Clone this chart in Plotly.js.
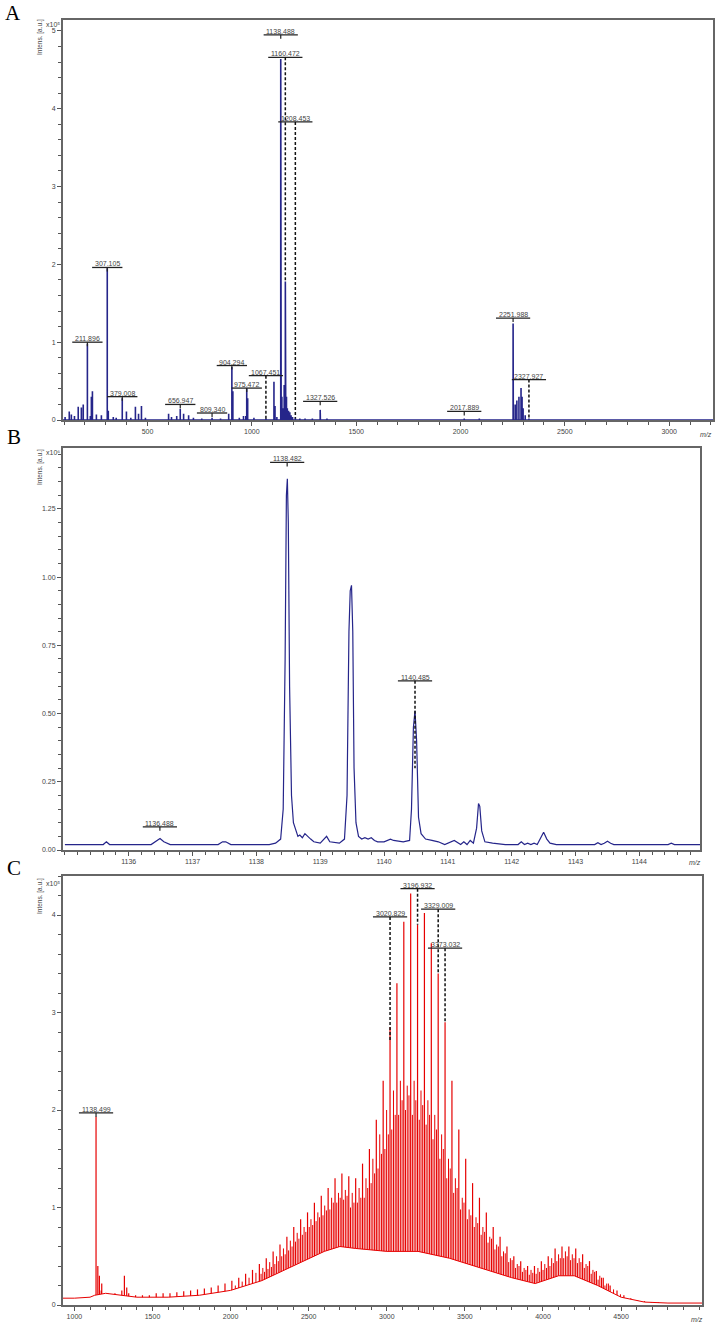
<!DOCTYPE html>
<html><head><meta charset="utf-8">
<script src="https://cdn.plot.ly/plotly-3.0.1.min.js"></script>
<style>html,body{margin:0;padding:0;background:#fff}#chart{width:717px;height:1325px}</style>
</head><body><div id="chart"></div>
<script>
// ---------------- Panel A : stick spectrum (m/z, intensity x10^5) ----------------
const aMz = [105,125,135,150,168,183,192,211.9,226,231,
  236,255,279,307.1,312,336,350,379.0,399,420,
  442,457,471,490,601,615,640,656.9,673,697,
  720,760,809.3,850,889,904.3,909,940,960,971,
  975.5,980,1010,1067.5,1106,1111,1120,1138.5,1139.5,1140.5,
  1144,1150,1155,1160.5,1161.5,1162.5,1166,1170,1176,1182,
  1188,1195,1208.5,1230,1255,1290,1327.5,1328.5,1360,1850,
  2017.9,2090,2252.0,2253,2262,2270,2280,2290,2295,2300,
  2310,2327.9];
const aInt = [0.04,0.11,0.07,0.05,0.17,0.16,0.2,0.98,0.05,0.3,
  0.37,0.07,0.06,1.95,0.12,0.04,0.03,0.28,0.11,0.03,
  0.17,0.08,0.18,0.03,0.08,0.04,0.05,0.14,0.08,0.06,
  0.03,0.02,0.03,0.02,0.08,0.68,0.37,0.03,0.05,0.05,
  0.40,0.28,0.03,0.02,0.49,0.18,0.04,4.64,3.78,1.6,
  0.3,0.15,0.45,1.78,0.9,0.35,0.3,0.15,0.12,0.1,
  0.06,0.04,0.03,0.02,0.02,0.02,0.13,0.07,0.02,0.01,
  0.02,0.02,1.24,0.9,0.2,0.25,0.3,0.41,0.3,0.15,
  0.06,0.02];
const aLabText = ['211.896','307.105','379.008','656.947','809.340','904.294','975.472','1067.451','1138.488','1160.472','1208.453','1327.526','2017.889','2251.988','2327.927'];
const aXTicks = [500,1000,1500,2000,2500,3000];

// ---------------- Panel B : profile of the 1138 isotope cluster (x10^6) ----------------
const bMz = [1135.00,1135.60,1135.65,1135.70,1136.35,1136.45,1136.49,1136.55,1136.65,1137.40,
  1137.47,1137.52,1137.60,1138.20,1138.30,1138.38,1138.42,1138.45,1138.47,1138.485,
  1138.50,1138.52,1138.55,1138.58,1138.62,1138.65,1138.68,1138.72,1138.76,1138.80,
  1138.85,1138.90,1139.00,1139.10,1139.15,1139.30,1139.38,1139.42,1139.45,1139.47,
  1139.49,1139.51,1139.53,1139.56,1139.60,1139.65,1139.70,1139.75,1139.80,1139.85,
  1139.90,1140.00,1140.05,1140.10,1140.15,1140.30,1140.40,1140.43,1140.46,1140.485,
  1140.51,1140.54,1140.58,1140.65,1140.75,1140.85,1140.95,1141.05,1141.10,1141.20,
  1141.25,1141.30,1141.35,1141.40,1141.45,1141.48,1141.50,1141.53,1141.58,1141.70,
  1141.90,1142.10,1142.15,1142.20,1142.25,1142.30,1142.35,1142.40,1142.45,1142.50,
  1142.55,1142.60,1142.70,1143.30,1143.35,1143.40,1143.45,1143.50,1143.55,1143.60,
  1144.45,1144.50,1144.55,1144.95];
const bInt = [0.02,0.02,0.03,0.02,0.02,0.035,0.042,0.03,0.02,0.02,
  0.03,0.03,0.02,0.02,0.025,0.04,0.15,0.7,1.30,1.36,
  1.2,0.6,0.2,0.1,0.07,0.05,0.055,0.045,0.06,0.05,
  0.04,0.03,0.025,0.05,0.03,0.025,0.04,0.2,0.8,0.95,
  0.97,0.8,0.3,0.1,0.05,0.04,0.045,0.04,0.045,0.035,
  0.03,0.03,0.035,0.04,0.035,0.03,0.035,0.15,0.45,0.51,
  0.4,0.12,0.06,0.04,0.035,0.03,0.02,0.03,0.035,0.02,
  0.03,0.02,0.035,0.025,0.08,0.17,0.16,0.07,0.03,0.025,
  0.02,0.02,0.03,0.02,0.025,0.02,0.025,0.02,0.04,0.065,
  0.04,0.025,0.02,0.02,0.027,0.02,0.025,0.032,0.025,0.02,
  0.02,0.025,0.02,0.02];
const bLabText = ['1136.488','1138.482','1140.485'];
const bXTicks = [1136,1137,1138,1139,1140,1141,1142,1143,1144];

// ---------------- Panel C : polymer distribution (x10^5) ----------------
const cMz = [1171.6,1215.6,1259.6,1303.6,1347.7,1391.7,1435.7,1479.8,1523.8,1567.8,
  1611.9,1655.9,1699.9,1744.0,1788.0,1832.0,1876.0,1920.1,1964.1,2008.1,
  2052.2,2096.2,2140.2,2184.2,2228.3,2272.3,2316.3,2360.4,2404.4,2448.4,
  2492.5,2536.5,2580.5,2624.5,2668.6,2712.6,2756.6,2800.7,2844.7,2888.7,
  2932.8,2976.8,3020.8,3064.8,3108.9,3152.9,3196.9,3240.9,3285.0,3329.0,
  3373.0,3417.1,3461.1,3505.1,3549.2,3593.2,3637.2,3681.3,3725.3,3769.3,
  3813.3,3857.4,3901.4,3945.4,3989.5,4033.5,4077.5,4121.6,4165.6,4209.6,
  4253.7,4297.7,4341.7,4385.7,4429.8,4473.8,4517.8,4561.9,4605.9,4649.9,
  4694.0,4738.0];
const cTop = [0.15,0.12,0.12,0.15,0.12,0.1,0.1,0.1,0.12,0.12,
  0.12,0.13,0.14,0.15,0.16,0.17,0.18,0.2,0.22,0.25,
  0.28,0.32,0.36,0.42,0.48,0.55,0.62,0.7,0.8,0.88,
  0.95,1.05,1.12,1.2,1.3,1.35,1.32,1.3,1.45,1.6,
  1.9,2.3,2.85,3.3,3.93,4.22,3.9,4.02,3.71,3.4,
  2.9,2.3,1.8,1.5,1.25,1.1,0.95,0.8,0.7,0.6,
  0.5,0.45,0.4,0.4,0.45,0.5,0.58,0.6,0.6,0.58,
  0.52,0.45,0.35,0.28,0.2,0.15,0.1,0.07,0.05,0.04,
  0.03,0.03];
const cMz2 = [2030.2,2074.2,2118.2,2162.2,2206.3,2250.3,2294.3,2338.4,2382.4,2426.4,
  2470.5,2514.5,2558.5,2602.5,2646.6,2690.6,2734.6,2778.7,2822.7,2866.7,
  2910.8,2954.8,2998.8,3042.8,3086.9,3130.9,3174.9,3218.9,3263.0,3307.0,
  3351.0,3395.1,3439.1,3483.1,3527.2,3571.2,3615.2,3659.3,3703.3,3747.3,
  3791.3,3835.4,3879.4,3923.4,3967.5,4011.5,4055.5,4099.6,4143.6,4187.6,
  4231.7,4275.7,4319.7,4363.7,4407.8,4451.8,4495.8];
const cTop2 = [0.2,0.24,0.28,0.33,0.38,0.44,0.5,0.58,0.66,0.74,
  0.8,0.88,0.95,1.02,1.1,1.15,1.18,1.15,1.2,1.3,
  1.5,1.75,2.0,2.2,2.3,2.25,2.3,2.2,2.1,1.95,
  1.75,1.5,1.3,1.1,0.98,0.9,0.8,0.7,0.62,0.55,
  0.48,0.42,0.38,0.36,0.38,0.42,0.48,0.52,0.55,0.52,
  0.48,0.42,0.36,0.3,0.22,0.16,0.11];
const cMz3 = [2195.2,2239.3,2283.3,2327.3,2371.4,2415.4,2459.4,2503.5,2547.5,2591.5,
  2635.5,2679.6,2723.6,2767.6,2811.7,2855.7,2899.7,2943.8,2987.8,3031.8,
  3075.8,3119.9,3163.9,3207.9,3251.9,3296.0,3340.0,3384.0,3428.1,3472.1,
  3516.1,3560.2,3604.2,3648.2,3692.3,3736.3,3780.3,3824.3,3868.4,3912.4,
  3956.4,4000.5,4044.5,4088.5,4132.6,4176.6,4220.6,4264.7,4308.7,4352.7,4396.7];
const cTop3 = [0.32,0.37,0.42,0.5,0.56,0.65,0.72,0.8,0.86,0.92,
  0.98,1.05,1.08,1.0,1.05,1.1,1.25,1.4,1.6,1.8,
  1.95,2.0,1.95,1.9,1.85,1.7,1.5,1.3,1.15,0.98,
  0.88,0.8,0.72,0.64,0.57,0.5,0.44,0.38,0.34,0.31,
  0.32,0.36,0.4,0.45,0.48,0.46,0.43,0.38,0.32,0.26,0.2];
const cMz4 = [2217.3,2261.3,2305.3,2349.4,2393.4,2437.4,2481.5,2525.5,2569.5,2613.5,
  2657.6,2701.6,2745.6,2789.7,2833.7,2877.7,2921.8,2965.8,3009.8,3053.8,
  3097.9,3141.9,3185.9,3229.9,3274.0,3318.0,3362.0,3406.1,3450.1,3494.1,
  3538.2,3582.2,3626.2,3670.3,3714.3,3758.3,3802.3,3846.4,3890.4,3934.4,
  3978.5,4022.5,4066.5,4110.6,4154.6,4198.6,4242.7,4286.7,4330.7,4374.7,4418.8];
const cTop4 = [0.34,0.39,0.45,0.52,0.6,0.68,0.75,0.82,0.9,0.97,
  1.05,1.1,1.12,1.05,1.1,1.2,1.35,1.55,1.75,1.95,
  2.1,2.15,2.1,2.05,1.95,1.8,1.6,1.4,1.2,1.05,
  0.92,0.84,0.75,0.68,0.6,0.53,0.46,0.4,0.36,0.33,
  0.34,0.38,0.43,0.48,0.5,0.48,0.44,0.4,0.34,0.28,0.22];
const cExMz = [1138.5,1150,1160,1175,1320,1335];
const cExTop = [1.93,0.4,0.3,0.22,0.3,0.18];
const cFloorMz = [927,1000,1100,1130,1200,1300,1400,1600,1800,2000,2200,2400,2600,2700,2800,3000,3200,3400,3600,3800,3950,4100,4200,4350,4500,4650,4800,5018];
const cFloor = [0.07,0.07,0.08,0.1,0.12,0.1,0.08,0.08,0.1,0.15,0.25,0.4,0.55,0.6,0.58,0.55,0.55,0.48,0.38,0.28,0.22,0.3,0.3,0.2,0.08,0.03,0.02,0.02];
const cLabText = ['1138.499','3020.829','3196.932','3329.009','3373.032'];
const cXTicks = [1000,1500,2000,2500,3000,3500,4000,4500];

// ---------------- label placement (layout, not data) ----------------
const aLabLevel = [1.0,1.96,0.3,0.2,0.09,0.7,0.41,0.57,4.95,4.66,3.83,0.24,0.11,1.31,0.52];
const aLabDashTo = [null,null,null,null,null,null,null,0.0,null,1.78,0.02,null,null,null,0.02];
const bLabLevel = [0.085,1.42,0.62];
const bLabDashTo = [null,null,0.3];
const cLabLevel = [1.97,3.98,4.27,4.06,3.66];
const cLabDashTo = [null,2.7,3.9,3.4,2.9];

// ---------------- geometry ----------------
const W = 717, H = 1325;
const px = v => v / W, py = v => 1 - v / H;
const AXL = 63;

function sticksConnected(mz, h, x0, x1) {
  const x = [x0], y = [0];
  mz.forEach((m, i) => { x.push(m, m, m); y.push(0, h[i], 0); });
  x.push(x1); y.push(0);
  return {x, y};
}
function sticksSep(mz, h) {
  const x = [], y = [];
  mz.forEach((m, i) => { x.push(m, m, null); y.push(0, h[i], null); });
  return {x, y};
}

const aS = sticksConnected(aMz, aInt, 95, 3210);
const cS1 = sticksSep(cMz, cTop);
const cS2 = sticksSep(cMz2, cTop2);
const cS3 = sticksSep(cMz3, cTop3);
const cS4 = sticksSep(cMz4, cTop4);
const cS5 = sticksSep(cExMz, cExTop);

const BLUE = '#25258a', RED = '#e60000';
const traces = [
  {x: aS.x, y: aS.y, xaxis: 'x', yaxis: 'y', mode: 'lines', line: {color: BLUE, width: 1.6}, hoverinfo: 'skip'},
  {x: bMz, y: bInt, xaxis: 'x2', yaxis: 'y2', mode: 'lines', line: {color: BLUE, width: 1.2}, hoverinfo: 'skip'},
  {x: cS3.x, y: cS3.y, xaxis: 'x3', yaxis: 'y3', mode: 'lines', line: {color: RED, width: 1}, hoverinfo: 'skip'},
  {x: cS4.x, y: cS4.y, xaxis: 'x3', yaxis: 'y3', mode: 'lines', line: {color: RED, width: 1}, hoverinfo: 'skip'},
  {x: cS2.x, y: cS2.y, xaxis: 'x3', yaxis: 'y3', mode: 'lines', line: {color: RED, width: 1}, hoverinfo: 'skip'},
  {x: cS1.x, y: cS1.y, xaxis: 'x3', yaxis: 'y3', mode: 'lines', line: {color: RED, width: 1.2}, hoverinfo: 'skip'},
  {x: cS5.x, y: cS5.y, xaxis: 'x3', yaxis: 'y3', mode: 'lines', line: {color: RED, width: 1.2}, hoverinfo: 'skip'},
  {x: cFloorMz, y: cFloor, xaxis: 'x3', yaxis: 'y3', mode: 'lines', fill: 'tozeroy', fillcolor: '#ffffff', line: {color: RED, width: 1}, hoverinfo: 'skip'}
];

const FONT = 'Liberation Sans, Arial, sans-serif';
const shapes = [], annotations = [];
function addLabels(xr, yr, texts, levels, dashTo) {
  texts.forEach((t, i) => {
    const mz = parseFloat(t), lv = levels[i];
    const w = t.length * 3.9 + 3;
    shapes.push({type: 'line', xref: xr, yref: yr, xsizemode: 'pixel', xanchor: mz, x0: -w / 2, x1: w / 2, y0: lv, y1: lv, line: {color: '#222', width: 1.3}});
    if (dashTo[i] === null) {
      shapes.push({type: 'line', xref: xr, yref: yr, ysizemode: 'pixel', yanchor: lv, x0: mz, x1: mz, y0: 0, y1: -4, line: {color: '#222', width: 1.2}});
    } else {
      shapes.push({type: 'line', xref: xr, yref: yr, x0: mz, x1: mz, y0: lv, y1: dashTo[i], line: {color: '#111', width: 1.5, dash: '3px,2px'}});
    }
    annotations.push({xref: xr, yref: yr, x: mz, y: lv, text: t, showarrow: false, yanchor: 'bottom', xanchor: 'center', borderpad: 0, yshift: -1, font: {size: 7, color: '#444', family: FONT}});
  });
}
addLabels('x', 'y', aLabText, aLabLevel, aLabDashTo);
addLabels('x2', 'y2', bLabText, bLabLevel, bLabDashTo);
addLabels('x3', 'y3', cLabText, cLabLevel, cLabDashTo);

function paperText(text, x, y, opts) {
  annotations.push(Object.assign({xref: 'paper', yref: 'paper', x: px(x), y: py(y), text: text, showarrow: false, xanchor: 'center', yanchor: 'middle',
    font: {size: 7, color: '#444', family: FONT}}, opts || {}));
}
// panel letters
const SERIF = 'Liberation Serif, Times New Roman, serif';
paperText('A', 13, 13, {font: {size: 21, color: '#000', family: SERIF}});
paperText('B', 14, 437, {font: {size: 21, color: '#000', family: SERIF}});
paperText('C', 14, 868, {font: {size: 21, color: '#000', family: SERIF}});
// y titles & multipliers
[[37, 24], [467, 453], [896, 883]].forEach(([ty, my], i) => {
  paperText('Intens. [a.u.]', 40, ty, {textangle: -90, font: {size: 6.5, color: '#444', family: FONT}});
  paperText(i === 1 ? 'x10⁶' : 'x10⁵', 53, my, {font: {size: 7, color: '#444', family: FONT}});
});
// m/z
const MZF = {size: 7, color: '#444', family: FONT, style: 'italic'};
paperText('m/z', 706, 434, {font: MZF});
paperText('m/z', 695, 862, {font: MZF});
paperText('m/z', 697, 1319, {font: MZF});

const tickFont = {size: 7, color: '#444', family: FONT};
function xAx(dom, range, vals, minorD, anchor) {
  return {domain: dom, range: range, anchor: anchor, tickmode: 'array', tickvals: vals, ticktext: vals.map(String),
    ticks: 'outside', ticklen: 4, tickwidth: 1, tickcolor: '#555', tickfont: tickFont,
    minor: {dtick: minorD, tick0: 0, ticks: 'outside', ticklen: 3, tickcolor: '#555', showgrid: false},
    showline: true, linecolor: '#666', linewidth: 2, mirror: true, showgrid: false, zeroline: false, fixedrange: true};
}
function yAx(dom, range, dtick, minorD, fmt, anchor) {
  return {domain: dom, range: range, anchor: anchor, dtick: dtick, tick0: 0, tickformat: fmt,
    ticks: 'outside', ticklen: 4, tickwidth: 1, tickcolor: '#555', tickfont: tickFont,
    minor: {dtick: minorD, tick0: 0, ticks: 'outside', ticklen: 3, tickcolor: '#555', showgrid: false},
    showline: true, linecolor: '#666', linewidth: 2, mirror: true, showgrid: false, zeroline: false, fixedrange: true};
}

const layout = {
  width: W, height: H, margin: {l: 0, r: 0, t: 0, b: 0}, paper_bgcolor: '#fff', plot_bgcolor: '#fff', showlegend: false,
  xaxis: xAx([px(AXL), px(713)], [95, 3210], aXTicks, 100, 'y'),
  yaxis: yAx([py(420), py(20)], [0, 5.14], 1, 0.2, 'd', 'x'),
  xaxis2: xAx([px(AXL), px(700)], [1134.97, 1144.95], bXTicks, 0.2, 'y2'),
  yaxis2: yAx([py(850), py(448)], [0, 1.473], 0.25, 0.05, '.2f', 'x2'),
  xaxis3: xAx([px(AXL), px(702)], [927, 5018], cXTicks, 100, 'y3'),
  yaxis3: yAx([py(1305), py(876)], [0, 4.4], 1, 0.2, 'd', 'x3'),
  shapes: shapes, annotations: annotations
};

Plotly.newPlot('chart', traces, layout, {displayModeBar: false, staticPlot: true});
</script></body></html>
